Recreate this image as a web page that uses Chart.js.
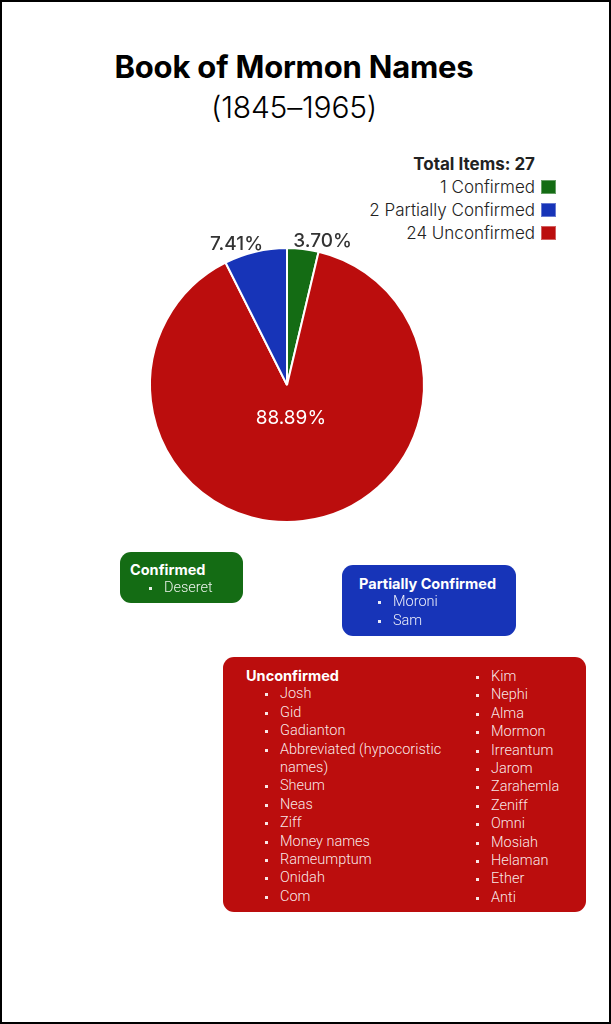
<!DOCTYPE html>
<html>
<head>
<meta charset="utf-8">
<script src="https://cdn.jsdelivr.net/npm/chart.js@4.4.1/dist/chart.umd.min.js"></script>
<style>
  html, body { margin: 0; padding: 0; background: #fff; }
  body { width: 611px; height: 1024px; position: relative; overflow: hidden; font-family: Inter, "Noto Sans", sans-serif; }
  .frame { position: absolute; left: 0; top: 0; width: 607px; height: 1020px; border: 2px solid #000; }
  .title { position: absolute; left: 0; width: 588px; text-align: center; color: #000; }
  #t1 { top: 48px; font-size: 31px; font-weight: 700; letter-spacing: -0.2px; }
  #t2 { top: 89px; font-size: 30px; font-weight: 300; letter-spacing: -0.2px; }
  #legend { position: absolute; right: 76px; top: 153px; text-align: right; color: #222; }
  #legend .lt { font-weight: 700; font-size: 17px; line-height: 23px; }
  #legend .row { font-size: 17px; font-weight: 300; line-height: 23px; height: 23px; }
  #legend .row:first-of-type { margin-top: 2px; }
  #legend .sw { display: inline-block; width: 15px; height: 14px; vertical-align: -1px; margin-left: 6px; margin-right: -21px; box-sizing: border-box; border: 1px solid rgba(255,255,255,0.35); }
  #chartBox { position: absolute; left: 130px; top: 200px; width: 314px; height: 370px; }
  .box { position: absolute; border-radius: 11px; color: #fff; box-sizing: border-box; }
  .box h4 { margin: 0; font-family: Inter, sans-serif; font-weight: 700; font-size: 14.5px; line-height: 18.4px; }
  .box ul { list-style: none; margin: 0; padding: 0 0 0 34px; font-family: Roboto, sans-serif; font-weight: 300; font-size: 14.5px; line-height: 18.4px; color: rgba(255,255,255,0.92); }
  .box li { position: relative; }
  .box li::before { content: ""; position: absolute; left: -15px; top: 8px; width: 3px; height: 3px; background: rgba(255,255,255,0.9); }
  #boxC { left: 120px; top: 552px; width: 123px; height: 51px; padding: 9px 0 0 10px; }
  #boxP { left: 342px; top: 565px; width: 174px; height: 71px; padding: 10px 0 0 17px; }
  #boxU { left: 223px; top: 657px; width: 363px; height: 255px; padding: 10px 0 0 23px; }
  #boxU .colR { position: absolute; left: 234px; top: 11px; }
  #boxU .colL { width: 210px; }
</style>
</head>
<body>
<div class="frame"></div>
<div class="title" id="t1">Book of Mormon Names</div>
<div class="title" id="t2">(1845–1965)</div>
<div id="legend"></div>
<div id="chartBox"><canvas id="pie"></canvas></div>
<div class="box" id="boxC"></div>
<div class="box" id="boxP"></div>
<div class="box" id="boxU"></div>
<script>
// categories in the order the slices run clockwise from the top
const categories = ['Confirmed', 'Unconfirmed', 'Partially Confirmed'];
const counts = [1, 24, 2];
const colors = ['#146c14', '#bb0d0d', '#1734b8'];
// legend order
const legendOrder = ['Confirmed', 'Partially Confirmed', 'Unconfirmed'];

const confirmedNames = ['Deseret'];
const partialNames = ['Moroni', 'Sam'];
const unconfirmedNames = ['Josh', 'Gid', 'Gadianton', 'Abbreviated (hypocoristic names)', 'Sheum', 'Neas', 'Ziff',
  'Money names', 'Rameumptum', 'Onidah', 'Com', 'Kim', 'Nephi', 'Alma', 'Mormon', 'Irreantum', 'Jarom',
  'Zarahemla', 'Zeniff', 'Omni', 'Mosiah', 'Helaman', 'Ether', 'Anti'];

const total = counts.reduce((a, b) => a + b, 0);

function colorOf(name) { return colors[categories.indexOf(name)]; }
function countOf(name) { return counts[categories.indexOf(name)]; }

// legend
const leg = document.getElementById('legend');
let html = '<div class="lt">Total Items: ' + total + '</div>';
legendOrder.forEach(n => {
  html += '<div class="row">' + countOf(n) + ' ' + n + '<span class="sw" style="background:' + colorOf(n) + '"></span></div>';
});
leg.innerHTML = html;

function listHtml(names) {
  return '<ul>' + names.map(n => '<li>' + n + '</li>').join('') + '</ul>';
}
document.getElementById('boxC').style.background = colorOf('Confirmed');
document.getElementById('boxC').innerHTML = '<h4>Confirmed</h4>' + listHtml(confirmedNames);
document.getElementById('boxP').style.background = colorOf('Partially Confirmed');
document.getElementById('boxP').innerHTML = '<h4>Partially Confirmed</h4>' + listHtml(partialNames);
document.getElementById('boxU').style.background = colorOf('Unconfirmed');
document.getElementById('boxU').innerHTML =
  '<div class="colL"><h4>Unconfirmed</h4>' + listHtml(unconfirmedNames.slice(0, 11)) + '</div>' +
  '<div class="colR">' + listHtml(unconfirmedNames.slice(11)) + '</div>';

// percentage labels on the slices
const pctLabels = {
  id: 'pctLabels',
  afterDatasetsDraw(chart) {
    const ctx = chart.ctx;
    const meta = chart.getDatasetMeta(0);
    ctx.save();
    meta.data.forEach((arc, i) => {
      const p = arc.getProps(['x', 'y', 'startAngle', 'endAngle', 'outerRadius'], true);
      const pct = (counts[i] / total * 100).toFixed(2) + '%';
      const mid = (p.startAngle + p.endAngle) / 2;
      ctx.textBaseline = 'middle';
      ctx.textAlign = 'center';
      if (counts[i] / total > 0.2) {
        ctx.font = '400 19px Inter';
        ctx.fillStyle = '#fff';
        const r = p.outerRadius * 0.245;
        ctx.fillText(pct, p.x + Math.cos(mid) * r, p.y + Math.sin(mid) * r);
      } else {
        ctx.font = '500 19px Inter';
        ctx.fillStyle = '#333';
        const w = ctx.measureText(pct).width;
        const r = p.outerRadius + 8;
        const dx = Math.cos(mid);
        const ax = p.x + dx * r, ay = p.y + Math.sin(mid) * r;
        ctx.fillText(pct, ax + Math.sign(dx) * w * 0.32, ay);
      }
    });
    ctx.restore();
  }
};

new Chart(document.getElementById('pie'), {
  type: 'pie',
  data: {
    labels: categories,
    datasets: [{
      data: counts,
      backgroundColor: colors,
      borderColor: '#ffffff',
      borderWidth: 2,
      hoverOffset: 0
    }]
  },
  options: {
    responsive: true,
    maintainAspectRatio: false,
    animation: false,
    layout: { padding: { top: 47, bottom: 47, left: 19, right: 19 } },
    plugins: {
      legend: { display: false },
      tooltip: { enabled: false }
    }
  },
  plugins: [pctLabels]
});
</script>
</body>
</html>
